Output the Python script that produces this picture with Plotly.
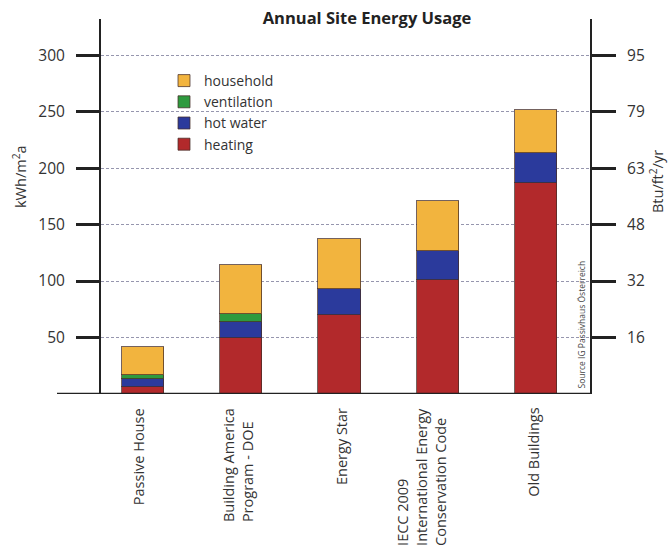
import plotly.graph_objects as go

categories = ["Passive House", "Building America<br>Program - DOE", "Energy Star",
              "IECC 2009<br>International Energy<br>Conservation Code", "Old Buildings"]
heating = [6.5, 50, 70, 101, 187]
hot_water = [7, 14, 23, 26, 26]
ventilation = [3, 7, 0, 0, 0]
household = [25, 43, 44, 44, 38]

left_ticks = [50, 100, 150, 200, 250, 300]
right_tick_labels = ["16", "32", "48", "63", "79", "95"]

colors = {"heating": "#B2292B", "hot water": "#2B3A9C", "ventilation": "#2E9A3E", "household": "#F2B43E"}
FONT = "Open Sans"

L, T, PW, PH = 101, 19, 489, 375   # plot area in pixels


def px_x(p):
    return (p - L) / PW


def px_y(p):
    return (T + PH - p) / PH


xs = list(range(len(categories)))
fig = go.Figure()
for name, vals in [("heating", heating), ("hot water", hot_water),
                   ("ventilation", ventilation), ("household", household)]:
    fig.add_trace(go.Bar(x=xs, y=vals, name=name, width=0.43,
                         marker=dict(color=colors[name], line=dict(color="rgba(70,45,40,0.75)", width=1))))

# invisible trace to activate right axis
fig.add_trace(go.Scatter(x=[xs[0]], y=[0], yaxis="y2", mode="markers",
                         marker=dict(opacity=0), showlegend=False, hoverinfo="skip"))

yr = [0, 332]
fig.update_layout(
    width=671, height=551,
    margin=dict(l=L, r=671 - L - PW, t=T, b=551 - T - PH, autoexpand=False),
    paper_bgcolor="white", plot_bgcolor="white",
    barmode="stack", bargap=0,
    font=dict(family=FONT, size=14, color="#333"),
    title=dict(text="<b>Annual Site Energy Usage</b>", x=367/671, xanchor="center",
               xref="container", y=1 - 18/551, yref="container", yanchor="middle",
               font=dict(family=FONT, size=16.5, color="#222")),
    xaxis=dict(range=[-0.424, 4.546], tickvals=[], showgrid=False, zeroline=False,
               showline=False, fixedrange=True),
    yaxis=dict(range=yr, tickvals=left_ticks, ticks="outside", ticklen=23, tickwidth=2.5,
               tickcolor="#222", showline=True, linewidth=2, linecolor="#222",
               showgrid=True, gridcolor="#9696AE", gridwidth=1, griddash="3px,2px",
               zeroline=False, ticklabelstandoff=8, tickfont=dict(size=15.5, color="#333")),
    yaxis2=dict(range=yr, overlaying="y", side="right", tickvals=left_ticks,
                ticktext=right_tick_labels, ticks="outside", ticklen=24, tickwidth=2.5,
                tickcolor="#222", showline=True, linewidth=2, linecolor="#222",
                showgrid=False, zeroline=False, ticklabelstandoff=8,
                tickfont=dict(size=15.5, color="#333")),
    legend=dict(x=px_x(164), y=px_y(65), xanchor="left", yanchor="top",
                bgcolor="rgba(0,0,0,0)", font=dict(family=FONT, size=14, color="#333"),
                traceorder="reversed", tracegroupgap=0, itemwidth=30),
    showlegend=True,
)

# baseline extending left past the axis
fig.add_shape(type="line", xref="paper", yref="y", x0=px_x(57), x1=1, y0=0, y1=0,
              line=dict(color="#222", width=2.5))

# category labels
label_xshift = [-4, -3, 2, -17, -3]
for i, lab in enumerate(categories):
    fig.add_annotation(x=i, y=0, xref="x", yref="y", text=lab, textangle=-90, align="left",
                       xanchor="center", yanchor="top", yshift=-12, xshift=label_xshift[i],
                       showarrow=False, font=dict(family=FONT, size=14.5, color="#333"))

# axis titles
fig.add_annotation(x=px_x(19), y=px_y(177), xref="paper", yref="paper", text="kWh/m<sup>2</sup>a",
                   textangle=-90, xanchor="center", yanchor="middle", showarrow=False,
                   font=dict(family=FONT, size=14.5, color="#333"))
fig.add_annotation(x=px_x(656), y=px_y(182), xref="paper", yref="paper", text="Btu/ft<sup>2</sup>/yr",
                   textangle=-90, xanchor="center", yanchor="middle", showarrow=False,
                   font=dict(family=FONT, size=14.5, color="#333"))

# source note
fig.add_annotation(x=1, y=0, xref="paper", yref="y", text="Source IG Passivhaus Österreich",
                   textangle=-90, xanchor="right", yanchor="bottom", xshift=-2, yshift=3,
                   showarrow=False, font=dict(family=FONT, size=8.5, color="#444"))

fig.write_html("out.html", config={"displayModeBar": False},
               post_script="document.body.style.margin='0px';")
